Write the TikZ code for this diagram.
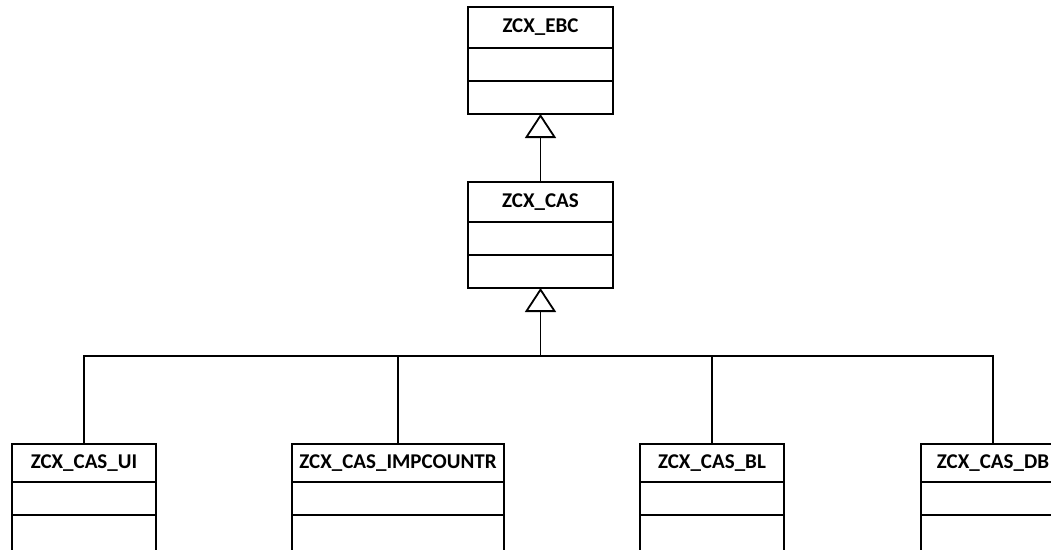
\documentclass[tikz,border=0pt]{standalone}
\usepackage{fontspec}
\setmainfont{Carlito}
\usetikzlibrary{positioning,arrows.meta}
\tikzset{
  classname/.style={draw,line width=1.8pt,minimum height=40pt,inner sep=0pt,
    outer sep=0pt,font=\fontsize{21}{24}\selectfont\bfseries},
  classpart/.style={draw,line width=1.8pt,minimum height=33pt,inner sep=0pt,
    outer sep=0pt},
  inherit/.style={line width=1.8pt,-{Triangle[open,length=24pt,width=31pt]}},
  link/.style={line width=1.8pt}
}
\begin{document}
\begin{tikzpicture}[x=1pt,y=-1pt]
  \useasboundingbox (0,0) rectangle (1051,549);
  \clip (0,0) rectangle (1051,549);
  % base classes
  \node[classname,minimum width=145pt,minimum height=41pt] (ebc) at (540.5,27.5) {ZCX\_EBC};
  \node[classpart,minimum width=145pt,below=0pt of ebc] (ebc1) {};
  \node[classpart,minimum width=145pt,below=0pt of ebc1] (ebc2) {};
  \node[classname,minimum width=145pt] (cas) at (540.5,202) {ZCX\_CAS};
  \node[classpart,minimum width=145pt,below=0pt of cas] (cas1) {};
  \node[classpart,minimum width=145pt,below=0pt of cas1] (cas2) {};
  % sub classes
  \node[classname,minimum width=144pt,minimum height=38pt] (ui) at (84,463) {ZCX\_CAS\_UI};
  \node[classpart,minimum width=144pt,below=0pt of ui] (ui1) {};
  \node[classpart,minimum width=144pt,minimum height=40pt,below=0pt of ui1] (ui2) {};
  \node[classname,minimum width=212pt,minimum height=38pt] (imp) at (398,463) {ZCX\_CAS\_IMPCOUNTR};
  \node[classpart,minimum width=212pt,below=0pt of imp] (imp1) {};
  \node[classpart,minimum width=212pt,minimum height=40pt,below=0pt of imp1] (imp2) {};
  \node[classname,minimum width=144pt,minimum height=38pt] (bl) at (712,463) {ZCX\_CAS\_BL};
  \node[classpart,minimum width=144pt,below=0pt of bl] (bl1) {};
  \node[classpart,minimum width=144pt,minimum height=40pt,below=0pt of bl1] (bl2) {};
  \node[classname,minimum width=144pt,minimum height=38pt] (db) at (993,463) {ZCX\_CAS\_DB};
  \node[classpart,minimum width=144pt,below=0pt of db] (db1) {};
  \node[classpart,minimum width=144pt,minimum height=40pt,below=0pt of db1] (db2) {};
  % generalisations
  \draw[inherit] (cas.north) -- (ebc2.south);
  \coordinate (bus) at (540.5,356);
  \draw[inherit] (bus) -- (cas2.south);
  \draw[link] (ui.north) |- (bus);
  \draw[link] (imp.north) |- (bus);
  \draw[link] (bl.north) |- (bus);
  \draw[link] (db.north) |- (bus);
\end{tikzpicture}
\end{document}
